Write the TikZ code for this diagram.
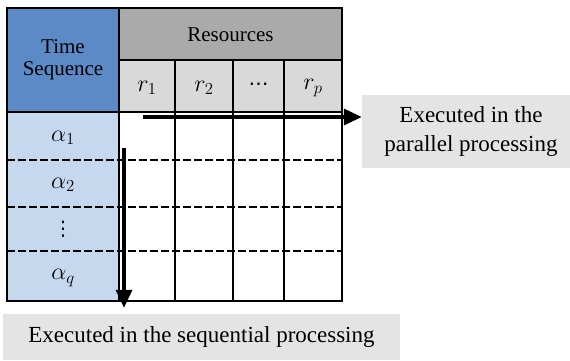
\RequirePackage{fix-cm}
\documentclass[tikz,border=0pt]{standalone}
\usepackage{fontspec}
\setmainfont{Liberation Serif}
\newfontfamily\dejavu{DejaVu Sans}
\usetikzlibrary{arrows.meta}
\definecolor{tsblue}{HTML}{5B8AC6}
\definecolor{rowblue}{HTML}{C6D8EE}
\definecolor{resgray}{HTML}{AAAAAA}
\definecolor{rgray}{HTML}{D9D9D9}
\definecolor{capgray}{HTML}{E3E4E3}
\tikzset{
  border/.style={draw=black, line width=2pt},
  dashrow/.style={draw=black, line width=2pt, dash pattern=on 8pt off 3pt},
  tabtext/.style={font=\fontsize{21}{22}\selectfont, align=center, inner sep=0pt},
  mathtext/.style={font=\fontsize{24}{26}\selectfont, inner sep=0pt},
  dotstext/.style={font=\dejavu\fontsize{20}{22}\selectfont, inner sep=0pt},
  caption/.style={fill=capgray, inner sep=0pt, font=\fontsize{23}{29}\selectfont, align=center},
  arr/.style={line width=3.5pt, -{Triangle[length=18pt, width=16pt]}},
}
\begin{document}
\begin{tikzpicture}[x=1pt,y=-1pt]
\useasboundingbox (0,0) rectangle (570,360);
% fills
\fill[tsblue] (7,8) rectangle (119,112);
\fill[resgray] (119,8) rectangle (342,60);
\fill[rgray] (119,60) rectangle (342,112);
\fill[rowblue] (7,112) rectangle (119,301);
% caption boxes
\node[caption, minimum width=208pt, minimum height=73pt] (par) at (466,131.5) {};
\node[caption] (partext) at (471,131) {Executed in the\\parallel processing};
\node[caption, minimum width=397pt, minimum height=46pt] (seq) at (201.5,337) {Executed in the sequential processing};
% dashed row lines
\draw[dashrow] (7,160) -- (342,160);
\draw[dashrow] (7,207) -- (342,207);
\draw[dashrow] (7,251) -- (342,251);
% solid grid
\draw[border] (7,8) rectangle (342,301);
\draw[border] (119,8) -- (119,301);
\draw[border] (119,60) -- (342,60);
\draw[border] (7,112) -- (342,112);
\draw[border] (175,60) -- (175,301);
\draw[border] (233,60) -- (233,301);
\draw[border] (284,60) -- (284,301);
% texts
\node[tabtext] (ts) at (63,60) {Time\\Sequence};
\node[tabtext] (res) at (230.5,35) {Resources};
\node[mathtext] (r1) at (147,88) {$r_1$};
\node[mathtext] (r2) at (204,88) {$r_2$};
\node[dotstext] (rd) at (258.5,87) {⋯};
\node[mathtext] (rp) at (313,88) {$r_p$};
\node[mathtext] (a1) at (63,138) {$\alpha_1$};
\node[mathtext] (a2) at (63,185) {$\alpha_2$};
\node[dotstext] (ad) at (63,229) {⋮};
\node[mathtext] (aq) at (63,278) {$\alpha_q$};
% arrows
\coordinate (hs) at (143,117);
\coordinate (vs) at (124,148);
\draw[arr] (hs) -- (hs -| par.west);
\draw[arr] (vs) -- ([yshift=6pt]vs |- seq.north);
\end{tikzpicture}
\end{document}
